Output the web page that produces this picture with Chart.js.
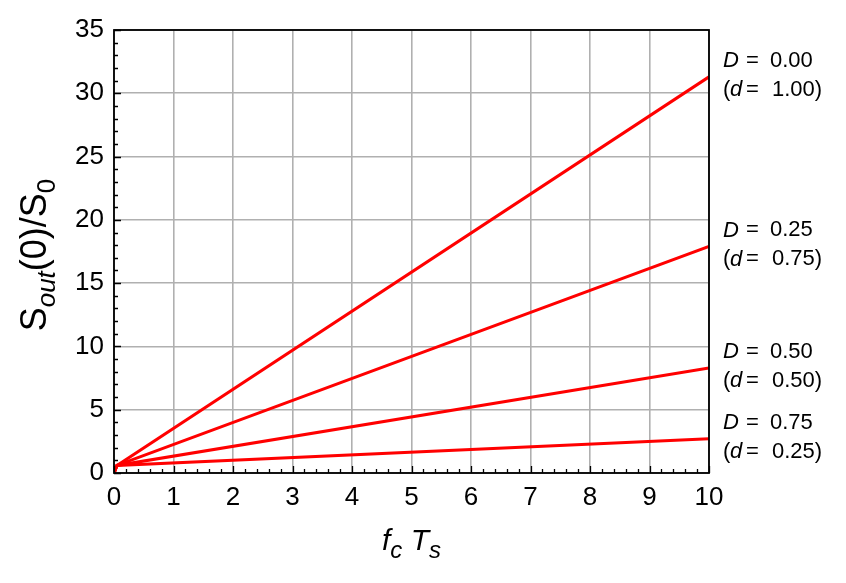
<!DOCTYPE html>
<html>
<head>
<meta charset="utf-8">
<script src="https://cdn.jsdelivr.net/npm/chart.js@4"></script>
<style>
  body { margin: 0; background: #fff; }
  canvas { display: block; }
</style>
</head>
<body>
<canvas id="myChart" width="846" height="583"></canvas>
<script>
// x values (f_c T_s) and the four curves
const xValues = [0, 0.05, 10];
const curveD000 = [0, 0.6, 31.3];
const curveD025 = [0, 0.6, 17.9];
const curveD050 = [0, 0.6, 8.3];
const curveD075 = [0, 0.6, 2.7];
const bigD = ["0.00", "0.25", "0.50", "0.75"];
const smallD = ["1.00", "0.75", "0.50", "0.25"];
const xTicks = [0, 1, 2, 3, 4, 5, 6, 7, 8, 9, 10];
const yTicks = [0, 5, 10, 15, 20, 25, 30, 35];

const FONT = "'Liberation Sans', Arial, sans-serif";

function toPoints(ys) {
  return xValues.map((x, i) => ({ x: x, y: ys[i] }));
}

const curves = [curveD000, curveD025, curveD050, curveD075];

// draws inward ticks, frame, right-hand labels and the axis titles
const decorations = {
  id: "decorations",
  afterDatasetsDraw(chart) {
    const ctx = chart.ctx;
    const ca = chart.chartArea;
    const xs = chart.scales.x;
    const ys = chart.scales.y;
    ctx.save();
    ctx.strokeStyle = "#000";
    ctx.lineWidth = 1.3;
    ctx.beginPath();
    for (let i = 0; i <= 50; i++) {
      const v = i * 0.2;
      const px = Math.round(xs.getPixelForValue(v)) + 0.5;
      const len = i % 5 === 0 ? 7 : 4;
      ctx.moveTo(px, ca.bottom);
      ctx.lineTo(px, ca.bottom - len);
    }
    for (let v = 0; v <= 35; v++) {
      const py = Math.round(ys.getPixelForValue(v)) + 0.5;
      const len = v % 5 === 0 ? 7 : 4;
      ctx.moveTo(ca.left, py);
      ctx.lineTo(ca.left + len, py);
    }
    ctx.stroke();

    // frame
    ctx.lineWidth = 1.8;
    ctx.strokeRect(ca.left, ca.top, ca.right - ca.left, ca.bottom - ca.top);

    // labels at the end of each line
    ctx.fillStyle = "#000";
    ctx.textBaseline = "middle";
    ctx.textAlign = "left";
    const f = "22px " + FONT, fi = "italic 22px " + FONT;
    curves.forEach((c, i) => {
      const yEnd = ys.getPixelForValue(c[c.length - 1]) - 2;
      const x0 = ca.right + 14;
      const y1 = yEnd - 14, y2 = yEnd + 15;
      ctx.font = fi; ctx.fillText("D", x0, y1);
      ctx.font = f;  ctx.fillText("=", x0 + 23, y1);
      ctx.fillText(bigD[i], x0 + 47, y1);
      ctx.fillText("(", x0, y2);
      ctx.font = fi; ctx.fillText("d", x0 + 7, y2);
      ctx.font = f;  ctx.fillText("=", x0 + 23, y2);
      ctx.fillText(smallD[i] + ")", x0 + 49, y2);
    });

    // x title: f_c T_s
    ctx.textBaseline = "alphabetic";
    const xParts = [
      ["italic 30px " + FONT, "f", 0],
      ["italic 24px " + FONT, "c", 8],
      ["30px " + FONT, " ", 0],
      ["italic 30px " + FONT, "T", 0],
      ["italic 24px " + FONT, "s", 8]
    ];
    drawTitle(ctx, (ca.left + ca.right) / 2, 550, xParts);

    // y title: S_out(0)/S_0
    ctx.translate(46, 255);
    ctx.rotate(-Math.PI / 2);
    const yParts = [
      ["36px " + FONT, "S", 0],
      ["italic 26px " + FONT, "out", 9],
      ["36px " + FONT, "(0)/S", 0],
      ["26px " + FONT, "0", 9]
    ];
    drawTitle(ctx, 0, 0, yParts);
    ctx.restore();
  }
};

function drawTitle(ctx, cx, baseline, parts) {
  let total = 0;
  parts.forEach(p => { ctx.font = p[0]; total += ctx.measureText(p[1]).width; });
  let x = cx - total / 2;
  ctx.textAlign = "left";
  parts.forEach(p => {
    ctx.font = p[0];
    ctx.fillText(p[1], x, baseline + p[2]);
    x += ctx.measureText(p[1]).width;
  });
}

const ctx = document.getElementById("myChart").getContext("2d");
const chart = new Chart(ctx, {
  type: "line",
  data: {
    datasets: curves.map((c, i) => ({
      label: "D=" + bigD[i],
      data: toPoints(c),
      borderColor: "#ff0000",
      backgroundColor: "#ff0000",
      borderWidth: 3,
      pointRadius: 0,
      fill: false,
      tension: 0
    }))
  },
  options: {
    responsive: false,
    animation: false,
    devicePixelRatio: 1,
    layout: { padding: { left: 0, right: 137, top: 30, bottom: 0 } },
    plugins: { legend: { display: false }, tooltip: { enabled: false } },
    scales: {
      x: {
        type: "linear",
        min: 0, max: 10,
        afterFit(scale) { scale.height = 110; },
        afterBuildTicks(scale) { scale.ticks = xTicks.map(v => ({ value: v })); },
        grid: { color: "#b0b0b0", lineWidth: 1.6, drawTicks: false },
        border: { display: false },
        ticks: { color: "#000", padding: 9, font: { family: FONT, size: 26 } }
      },
      y: {
        type: "linear",
        min: 0, max: 35,
        afterFit(scale) { scale.width = 114; },
        afterBuildTicks(scale) { scale.ticks = yTicks.map(v => ({ value: v })); },
        grid: { color: "#b0b0b0", lineWidth: 1.6, drawTicks: false },
        border: { display: false },
        ticks: { color: "#000", padding: 10, font: { family: FONT, size: 26 } }
      }
    }
  },
  plugins: [decorations]
});
</script>
</body>
</html>
